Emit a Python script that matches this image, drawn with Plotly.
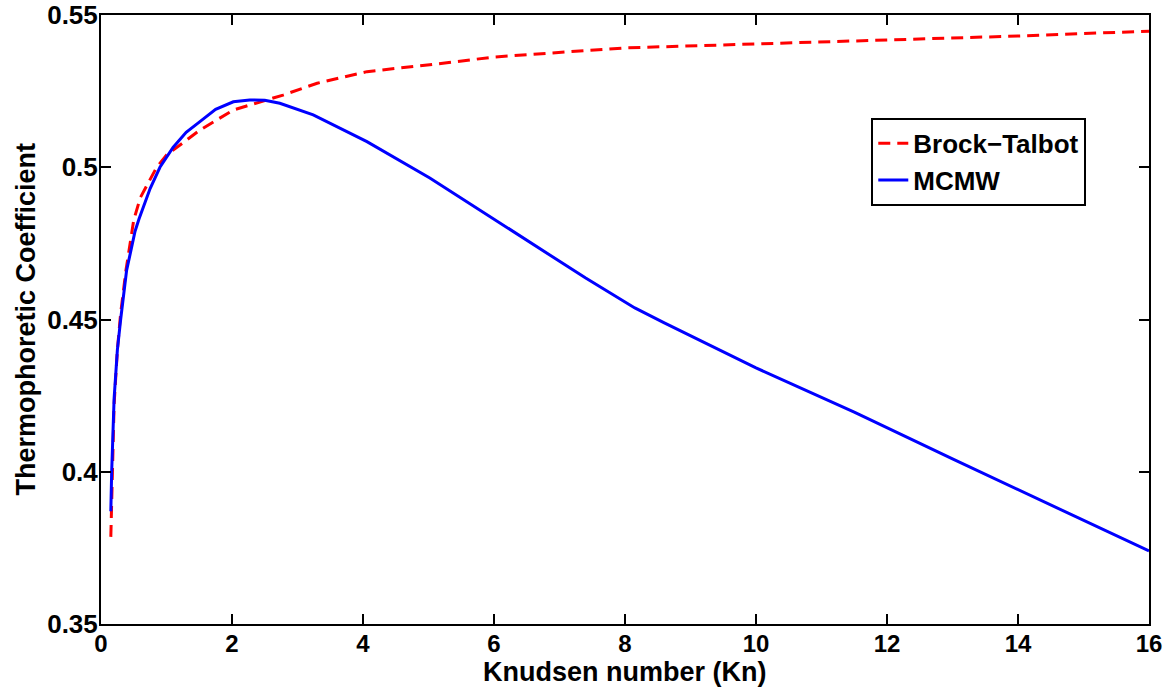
import plotly.graph_objects as go

# MCMW series
mcmw_kn = [0.15, 0.163, 0.2, 0.25, 0.3, 0.39, 0.52, 0.58, 0.75, 0.9, 1.1, 1.3, 1.51, 1.75,
           2.02, 2.27, 2.5, 2.73, 3.24, 4.06, 5.02, 6.3, 7.4, 8.15, 8.6, 10, 11.5, 13, 14.5, 16]
mcmw_val = [0.387, 0.400, 0.424, 0.440, 0.450, 0.466, 0.479, 0.483, 0.493, 0.500, 0.5065,
            0.5115, 0.515, 0.519, 0.5215, 0.5221, 0.5220, 0.521, 0.5172, 0.5084, 0.4965,
            0.4787, 0.4636, 0.4538, 0.4489, 0.4341, 0.4196, 0.4042, 0.3891, 0.374]

# Brock-Talbot series
bt_kn = [0.15, 0.17, 0.2, 0.25, 0.3, 0.38, 0.47, 0.5, 0.6, 0.85, 1.0, 1.51, 2.02, 2.78, 3.3,
         4.06, 5.28, 6, 8, 10, 12, 14, 16]
bt_val = [0.3786, 0.400, 0.422, 0.440, 0.452, 0.466, 0.4794, 0.4827, 0.490, 0.500, 0.504,
          0.5122, 0.5188, 0.5237, 0.5276, 0.5314, 0.5343, 0.5362, 0.5392, 0.5405, 0.5418,
          0.5431, 0.5447]

x_ticks = [0, 2, 4, 6, 8, 10, 12, 14, 16]
y_ticks = [0.35, 0.4, 0.45, 0.5, 0.55]
y_tick_text = ["0.35", "0.4", "0.45", "0.5", "0.55"]

x_title = "Knudsen number (Kn)"
y_title = "Thermophoretic Coefficient"

FONT = "Liberation Sans"

fig = go.Figure()
fig.add_trace(go.Scatter(x=bt_kn, y=bt_val, mode="lines", name="Brock\u2212Talbot",
                         line=dict(color="#ff0000", width=3, dash="12px,7px")))
fig.add_trace(go.Scatter(x=mcmw_kn, y=mcmw_val, mode="lines", name="MCMW",
                         line=dict(color="#0000ff", width=3)))

axis_common = dict(showline=True, linecolor="black", linewidth=2, mirror="allticks",
                   ticks="inside", ticklen=10, tickwidth=2, tickcolor="black",
                   showgrid=False, zeroline=False, automargin=False)

fig.update_xaxes(range=[0, 16], tickvals=x_ticks, ticktext=[str(v) for v in x_ticks],
                 ticklabelstandoff=-3,
                 tickfont=dict(family=FONT, size=24, color="black", weight="bold"),
                 **axis_common)
fig.update_yaxes(range=[0.35, 0.55], tickvals=y_ticks, ticktext=y_tick_text,
                 ticklabelstandoff=-4,
                 tickfont=dict(family=FONT, size=26, color="black", weight="bold"),
                 **axis_common)

title_font = dict(family=FONT, size=27, color="black", weight="bold")
fig.add_annotation(text=x_title, xref="paper", yref="paper", x=0.5, y=-0.079,
                   xanchor="center", yanchor="middle", showarrow=False, font=title_font)
fig.add_annotation(text=y_title, xref="paper", yref="paper", x=-0.0725, y=0.5,
                   xanchor="center", yanchor="middle", textangle=-90, showarrow=False,
                   font=title_font)

fig.update_layout(
    width=1176, height=689,
    margin=dict(l=101, r=27, t=15, b=65),
    paper_bgcolor="white", plot_bgcolor="white",
    showlegend=True,
    legend=dict(x=0.735, y=0.831, xanchor="left", yanchor="top",
                bgcolor="white", bordercolor="black", borderwidth=2,
                font=dict(family=FONT, size=26, color="black", weight="bold"),
                itemwidth=30, tracegroupgap=0),
)

fig.write_html("out.html")
